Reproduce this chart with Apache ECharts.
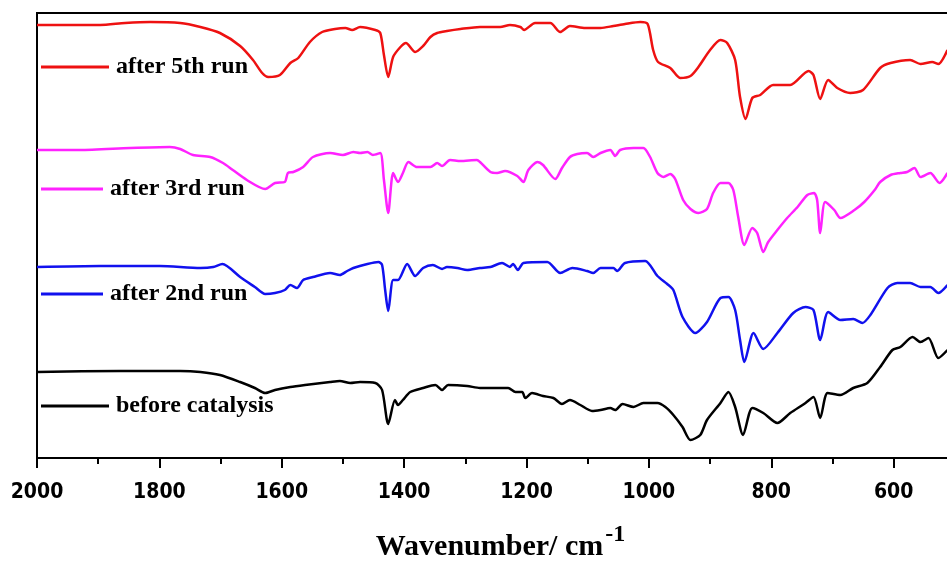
<!DOCTYPE html>
<html>
<head>
<meta charset="utf-8">
<title>FTIR</title>
<script src="https://cdn.jsdelivr.net/npm/echarts@6/dist/echarts.min.js"></script>
<style>
  html, body { margin: 0; padding: 0; background: #fff; }
  #chart { width: 947px; height: 565px; }
</style>
</head>
<body>
<div id="chart"></div>
<script>
// series names, top to bottom
var names = ['after 5th run', 'after 3rd run', 'after 2nd run', 'before catalysis'];
var colors = ['#ee1111', '#ff22ff', '#1111ee', '#000000'];
var xTicks = [2000, 1800, 1600, 1400, 1200, 1000, 800, 600];

// [wavenumber, offset transmittance (a.u.)]
var run5 = [
  [2000,433],[1946,433],[1897,433],[1856,435],[1815,436],[1766,435],[1733,431],[1701,425],
  [1668,412],[1647,398],[1632,385],[1622,381],[1603,383],[1586,395],[1573,400],[1554,416],
  [1534,426],[1513,429],[1496,430],[1485,428],[1472,431],[1447,428],[1439,425],[1433,403],
  [1426,381],[1418,401],[1406,411],[1397,415],[1382,406],[1369,412],[1357,421],[1346,425],
  [1330,427],[1308,429],[1276,431],[1243,431],[1227,433],[1210,431],[1204,428],[1186,435],
  [1161,435],[1145,426],[1129,432],[1104,430],[1079,430],[1058,432],[1039,434],[1014,436],
  [1002,434],[993,408],[985,396],[965,390],[949,380],[932,382],[919,391],[900,408],
  [883,418],[872,415],[859,398],[851,361],[842,339],[831,360],[818,363],[797,373],
  [769,373],[739,387],[731,383],[720,359],[707,378],[692,370],[671,365],[650,368],
  [622,390],[605,395],[573,398],[556,394],[537,396],[527,394],[512,408]
];
var run3 = [
  [2000,308],[1930,308],[1848,310],[1783,311],[1766,309],[1745,303],[1717,301],[1696,295],
  [1680,288],[1657,278],[1627,269],[1611,275],[1595,276],[1590,285],[1581,286],[1565,291],
  [1549,301],[1521,305],[1500,303],[1483,306],[1472,305],[1460,306],[1451,303],[1439,305],
  [1433,278],[1426,245],[1418,285],[1410,276],[1402,285],[1393,296],[1379,291],[1357,291],
  [1346,295],[1338,292],[1325,298],[1308,297],[1281,298],[1276,296],[1259,286],[1248,285],
  [1235,287],[1215,282],[1205,276],[1197,288],[1182,296],[1173,293],[1153,279],[1142,290],
  [1129,301],[1117,304],[1101,305],[1091,301],[1079,305],[1063,308],[1055,302],[1047,308],
  [1025,310],[1009,310],[998,301],[986,285],[976,281],[965,284],[957,279],[944,258],
  [932,249],[919,245],[905,249],[895,265],[883,275],[870,275],[862,268],[854,241],
  [844,213],[831,230],[823,225],[813,206],[805,216],[790,228],[774,240],[757,251],
  [741,263],[730,265],[725,258],[720,225],[712,256],[697,248],[687,240],[664,248],
  [648,256],[631,268],[622,276],[605,283],[589,285],[578,286],[566,290],[556,281],
  [540,285],[525,275],[512,285]
];
var run2 = [
  [2000,191],[1897,192],[1799,192],[1733,190],[1712,191],[1697,194],[1668,181],[1644,171],
  [1627,164],[1611,165],[1595,168],[1586,173],[1575,170],[1565,178],[1549,181],[1521,185],
  [1505,183],[1493,187],[1483,190],[1460,194],[1442,196],[1436,193],[1431,168],[1426,147],
  [1418,178],[1410,178],[1395,194],[1382,182],[1369,190],[1353,193],[1338,189],[1330,191],
  [1313,190],[1297,188],[1276,190],[1259,191],[1240,195],[1227,191],[1222,194],[1214,188],
  [1205,195],[1166,196],[1145,185],[1125,190],[1101,187],[1091,185],[1079,190],[1058,190],
  [1052,187],[1039,195],[1006,197],[986,182],[970,174],[960,168],[945,141],[924,125],
  [905,136],[883,160],[870,161],[859,148],[851,118],[844,96],[829,125],[813,109],
  [790,125],[764,145],[744,151],[731,148],[720,118],[707,146],[687,138],[666,139],
  [651,135],[638,143],[610,170],[594,175],[573,175],[556,171],[540,171],[527,165],[512,173]
];
var before = [
  [2000,86],[1864,87],[1766,87],[1733,86],[1701,83],[1668,76],[1644,70],[1627,65],
  [1611,68],[1586,71],[1562,73],[1521,76],[1505,77],[1488,75],[1472,76],[1447,75],
  [1436,68],[1426,34],[1415,58],[1410,53],[1402,58],[1390,66],[1369,70],[1349,73],
  [1338,68],[1328,73],[1297,72],[1276,70],[1230,70],[1218,66],[1207,66],[1202,60],
  [1191,65],[1173,62],[1156,60],[1142,54],[1129,58],[1112,53],[1093,47],[1079,48],
  [1063,50],[1055,48],[1043,54],[1025,51],[1009,55],[986,55],[973,51],[960,43],
  [945,31],[932,18],[916,23],[905,38],[883,55],[870,66],[859,51],[846,23],
  [831,50],[813,45],[790,35],[769,45],[744,55],[731,61],[720,40],[708,65],
  [687,63],[666,70],[643,75],[622,91],[602,108],[589,111],[569,121],[556,116],
  [543,120],[527,100],[512,108]
];
var spectra = [run5, run3, run2, before];

var legendTops = [55, 177, 282, 394];
var legendWidths = [68, 62, 62, 68];

function buildLegends(){
  var list = [];
  for (var i = 0; i < names.length; i++) {
    list.push({
      data: [names[i]],
      left: 41,
      top: legendTops[i],
      padding: 0,
      icon: 'rect',
      itemWidth: legendWidths[i],
      itemHeight: 3,
      selectedMode: false,
      textStyle: {
        color: '#000',
        fontFamily: 'Liberation Serif',
        fontWeight: 'bold',
        fontSize: 24,
        padding: [0, 0, 0, 2]
      }
    });
  }
  return list;
}

function buildSeries(){
  var list = [];
  for (var i = 0; i < names.length; i++) {
    list.push({
      name: names[i],
      type: 'line',
      data: spectra[i],
      symbol: 'none',
      smooth: 0.25,
      lineStyle: { color: colors[i], width: 2.5 },
      itemStyle: { color: colors[i] }
    });
  }
  return list;
}

var ftirOption = {
  animation: false,
  backgroundColor: '#fff',
  legend: buildLegends(),
  grid: {
    left: 37,
    top: 13,
    right: -69,
    bottom: 107,
    outerBoundsMode: 'none',
    containLabel: false,
    show: true,
    borderColor: '#000',
    borderWidth: 2
  },
  xAxis: {
    type: 'value',
    inverse: true,
    min: 400,
    max: 2000,
    interval: 200,
    name: '{a|Wavenumber/ cm}{b|-1}',
    nameLocation: 'middle',
    nameGap: 65,
    nameTextStyle: {
      padding: [0, 52, 0, 0],
      rich: {
        a: { fontFamily: 'Liberation Serif', fontWeight: 'bold', fontSize: 30, color: '#000' },
        b: { fontFamily: 'Liberation Serif', fontWeight: 'bold', fontSize: 24, color: '#000', padding: [0, 0, 24, 2] }
      }
    },
    axisLine: { lineStyle: { color: '#000', width: 2 } },
    axisTick: { length: 10, lineStyle: { color: '#000', width: 2 } },
    minorTick: { show: true, splitNumber: 2, length: 6, lineStyle: { color: '#000', width: 2 } },
    splitLine: { show: false },
    axisLabel: {
      margin: 24,
      color: '#000',
      fontFamily: 'DejaVu Sans Condensed',
      fontWeight: 'bold',
      fontSize: 21,
      formatter: function (v) { return xTicks.indexOf(v) >= 0 ? String(v) : ''; }
    }
  },
  yAxis: {
    type: 'value',
    min: 0,
    max: 445,
    axisLine: { show: true, lineStyle: { color: '#000', width: 2 } },
    axisTick: { show: false },
    axisLabel: { show: false },
    splitLine: { show: false }
  },
  series: buildSeries()
};

var ftirChart = echarts.init(document.getElementById('chart'));
ftirChart.setOption(ftirOption);

window.addEventListener('resize', function(){
  ftirChart.resize();
});
</script>
</body>
</html>
